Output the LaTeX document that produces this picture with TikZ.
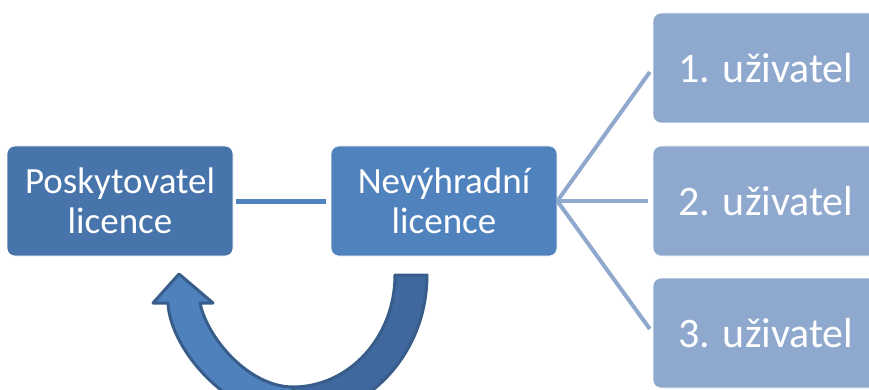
\documentclass[tikz,border=0pt]{standalone}
\usepackage{fontspec}
\setmainfont{Carlito}
\usetikzlibrary{positioning}
\definecolor{ownerblue}{RGB}{71, 116, 171}
\definecolor{licenceblue}{RGB}{80, 130, 190}
\definecolor{userblue}{RGB}{142, 168, 206}
\definecolor{arrowedge}{RGB}{56, 93, 138}
\definecolor{arrowdark}{RGB}{62, 104, 158}
\definecolor{arrowlight}{RGB}{79, 129, 189}

\begin{document}
\begin{tikzpicture}[x=1pt, y=-1pt,
    box/.style={rounded corners=8pt, minimum width=226pt, minimum height=110pt,
        inner sep=0pt, align=center, text=white, draw=white, line width=0.6pt},
    mainfont/.style={font=\fontsize{37}{40}\selectfont},
    userfont/.style={font=\fontsize{42}{48}\selectfont}]
    \useasboundingbox (0,0) rectangle (869,390);

    % Licence nodes
    \node[box, mainfont, fill=ownerblue] (owner) at (120,201) {Poskytovatel\\licence};
    \node[box, mainfont, fill=licenceblue] (licence) at (444,201) {Nevýhradní\\licence};

    % Users
    \node[box, userfont, fill=userblue] (user1) at (766,68) {1. uživatel};
    \node[box, userfont, fill=userblue] (user2) at (766,201) {2. uživatel};
    \node[box, userfont, fill=userblue] (user3) at (766,333) {3. uživatel};

    % Connectors
    \draw[line width=5pt, color=licenceblue, shorten <=3pt, shorten >=5pt] (owner.east) -- (licence.west);
    \foreach \u in {user1, user2, user3}
        \draw[line width=4pt, color=userblue, shorten >=5pt] (licence.east) -- (\u.west);

    % Curved arrow, back half
    \filldraw[fill=arrowdark, draw=arrowedge, line width=3pt, line join=round]
        (395,275) -- (427,275) .. controls (427,354) and (367,418) .. (293,418)
        -- (293,387) .. controls (349,387) and (395,337) .. (395,275) -- cycle;

    % Curved arrow, front half with head
    \filldraw[fill=arrowlight, draw=arrowedge, line width=3pt, line join=round]
        (293,418) .. controls (230,418) and (170,350) .. (168,303)
        -- (153,303) -- (179,274) -- (213,303) -- (200,303)
        .. controls (208,340) and (250,387) .. (293,387) -- cycle;
\end{tikzpicture}
\end{document}
